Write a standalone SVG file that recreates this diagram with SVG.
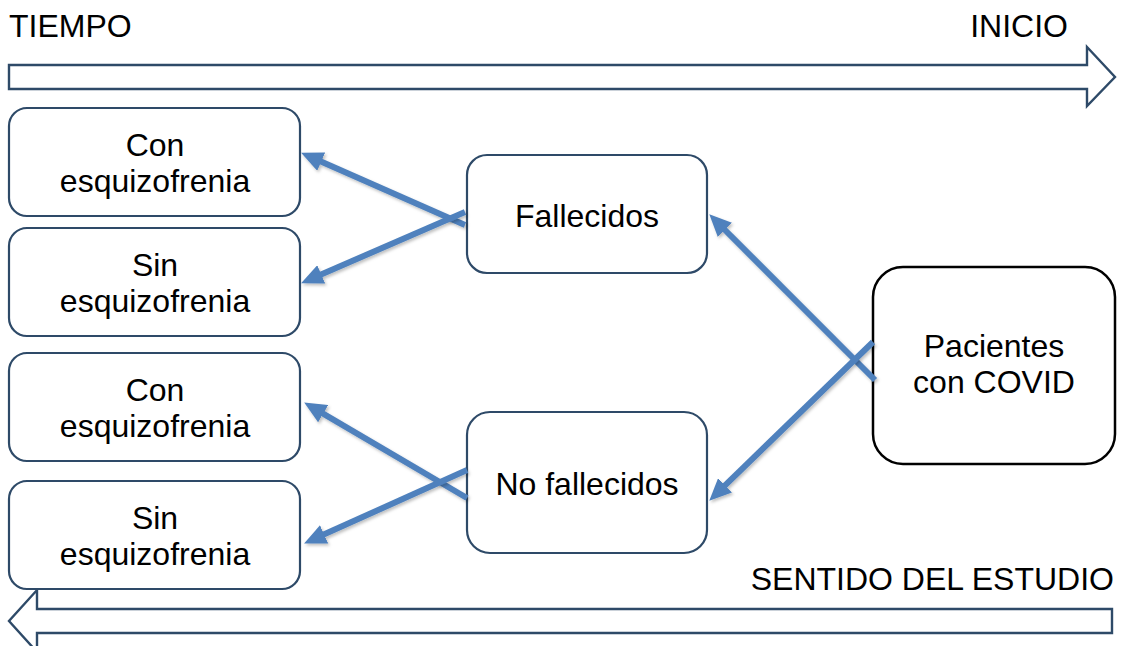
<svg xmlns="http://www.w3.org/2000/svg" width="1132" height="646" viewBox="0 0 1132 646">
<defs>
<style>
.box{fill:#fff;stroke:#2E4A68;stroke-width:2.2}
.boxk{fill:#fff;stroke:#000;stroke-width:2.5}
.big{fill:#fff;stroke:#2E4A68;stroke-width:2.4}
.t{font-family:"Liberation Sans",Arial,sans-serif;font-size:32px;fill:#000}
.c{text-anchor:middle}
.con{fill:none;stroke:#4F81BD;stroke-width:6;marker-end:url(#ah);filter:url(#sh)}
</style>
<marker id="ah" markerUnits="userSpaceOnUse" viewBox="0 0 22 20" markerWidth="22" markerHeight="20" refX="9" refY="10" orient="auto">
<path d="M0,0 L22,10 L0,20 z" fill="#4F81BD"/>
</marker>
<filter id="sh" x="-10%" y="-10%" width="130%" height="130%">
<feDropShadow dx="1.5" dy="2" stdDeviation="1.5" flood-color="#000" flood-opacity="0.25"/>
</filter>
</defs>
<g id="labels">
<text class="t" x="9" y="37">TIEMPO</text>
<text class="t" x="1068" y="37" text-anchor="end">INICIO</text>
<text class="t" x="1114" y="590" text-anchor="end">SENTIDO DEL ESTUDIO</text>
</g>
<g id="timeArrow">
<polygon class="big" points="9,65 1087,65 1087,47 1115,77 1087,106 1087,89 9,89"/>
</g>
<g id="studyArrow">
<polygon class="big" points="1112,609 37,609 37,590 9,621 37,652 37,633 1112,633"/>
</g>
<g id="con1">
<rect class="box" x="9" y="108" width="291" height="108" rx="18"/>
<text class="t c" x="155" y="156">Con</text>
<text class="t c" x="155" y="192">esquizofrenia</text>
</g>
<g id="sin1">
<rect class="box" x="9" y="228" width="291" height="108" rx="18"/>
<text class="t c" x="155" y="276">Sin</text>
<text class="t c" x="155" y="312">esquizofrenia</text>
</g>
<g id="con2">
<rect class="box" x="9" y="353" width="291" height="108" rx="18"/>
<text class="t c" x="155" y="401">Con</text>
<text class="t c" x="155" y="437">esquizofrenia</text>
</g>
<g id="sin2">
<rect class="box" x="9" y="481" width="291" height="108" rx="18"/>
<text class="t c" x="155" y="529">Sin</text>
<text class="t c" x="155" y="565">esquizofrenia</text>
</g>
<g id="fallecidos">
<rect class="box" x="467" y="155" width="240" height="118" rx="20"/>
<text class="t c" x="587" y="227">Fallecidos</text>
</g>
<g id="noFallecidos">
<rect class="box" x="467" y="412" width="240" height="141" rx="23"/>
<text class="t c" x="587" y="495">No fallecidos</text>
</g>
<g id="pacientes">
<rect class="boxk" x="873" y="267" width="242" height="197" rx="30"/>
<text class="t c" x="994" y="357">Pacientes</text>
<text class="t c" x="994" y="393">con COVID</text>
</g>
<g id="connectors">
<path class="con" d="M465,225 L313,158"/>
<path class="con" d="M465,212 L313,278"/>
<path class="con" d="M875,380 L718.5,223.5"/>
<path class="con" d="M873,342 L718.6,491.6"/>
<path class="con" d="M467,498 L315.4,409.1"/>
<path class="con" d="M467,470 L315.9,538.1"/>
</g>
</svg>
